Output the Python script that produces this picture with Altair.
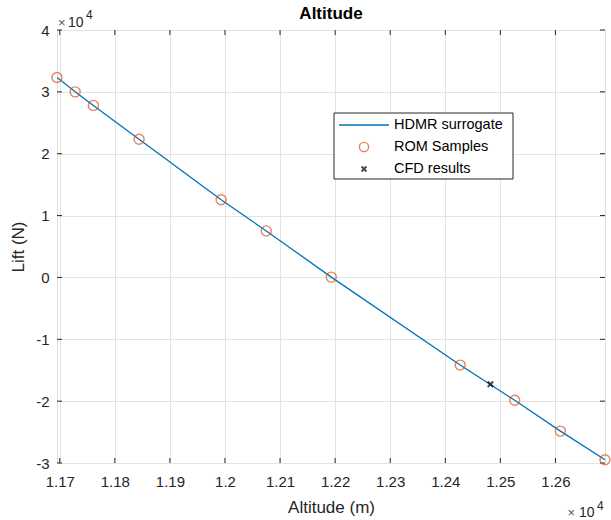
import altair as alt
import pandas as pd

# ---- data ----
rom_alt = [11695, 11728, 11761, 11844, 11993, 12075, 12193, 12427, 12526, 12609, 12690]
rom_lift = [32320, 30000, 27810, 22340, 12560, 7520, 50, -14170, -19860, -24850, -29470]
cfd_alt = [12482]
cfd_lift = [-17280]
series = ["HDMR surrogate", "ROM Samples", "CFD results"]
x_ticks = [11700, 11800, 11900, 12000, 12100, 12200, 12300, 12400, 12500, 12600]
y_ticks = [-30000, -20000, -10000, 0, 10000, 20000, 30000, 40000]
x_dom = [11695, 12690]
y_dom = [-30000, 40000]
chart_title = "Altitude"

W, H = 548, 433
FONT = "Liberation Sans"
TXT = "#262626"
BLUE = "#0072BD"
ORANGE = "#D95319"

rom = pd.DataFrame({"x": rom_alt, "y": rom_lift, "s": series[1]})
hdmr = pd.DataFrame({"x": rom_alt, "y": rom_lift, "s": series[0]})
cfd = pd.DataFrame({"x": cfd_alt, "y": cfd_lift, "s": series[2]})
xt = pd.DataFrame({"x": x_ticks})
yt = pd.DataFrame({"y": y_ticks})

xs = alt.Scale(domain=x_dom, nice=False, zero=False)
ys = alt.Scale(domain=y_dom, nice=False, zero=False)

xaxis = alt.Axis(values=x_ticks, labelExpr="'' + datum.value/10000",
                 grid=True, gridColor="#e3e3e3", ticks=False, domain=False,
                 labelFontSize=15, labelColor=TXT, labelFont=FONT, labelPadding=11,
                 titleFontSize=17, titleFontWeight="normal", titleColor=TXT, titleFont=FONT,
                 titlePadding=10, labelFlush=False)
yaxis = alt.Axis(values=y_ticks, labelExpr="'' + datum.value/10000",
                 grid=True, gridColor="#e3e3e3", ticks=False, domain=False,
                 labelFontSize=15, labelColor=TXT, labelFont=FONT, labelPadding=8,
                 titleFontSize=17, titleFontWeight="normal", titleColor=TXT, titleFont=FONT,
                 titlePadding=8, labelFlush=False)

X = alt.X("x:Q", scale=xs, axis=xaxis, title="Altitude (m)")
Y = alt.Y("y:Q", scale=ys, axis=yaxis, title="Lift (N)")

line = alt.Chart(hdmr).mark_line(color=BLUE, strokeWidth=1.3, clip=True).encode(x=X, y=Y)
pts = alt.Chart(rom).mark_point(shape="circle", filled=False, color=ORANGE, size=100,
                                strokeWidth=1.4).encode(x=X, y=Y)
XPATH = "M-1,-1L1,1M1,-1L-1,1"
cross = alt.Chart(cfd).mark_point(shape=XPATH, filled=False, color="black", size=30,
                                  strokeWidth=2).encode(x=X, y=Y)

TK = "#262626"
tb = alt.Chart(xt).mark_rule(color=TK, strokeWidth=1).encode(
    x=X, y=alt.value(H), y2=alt.value(H - 5))
tt = alt.Chart(xt).mark_rule(color=TK, strokeWidth=1).encode(
    x=X, y=alt.value(0), y2=alt.value(5))
tl = alt.Chart(yt).mark_rule(color=TK, strokeWidth=1).encode(
    y=Y, x=alt.value(0), x2=alt.value(5))
tr = alt.Chart(yt).mark_rule(color=TK, strokeWidth=1).encode(
    y=Y, x=alt.value(W), x2=alt.value(W - 5))

# legend
leg = pd.DataFrame({"s": [series[0]]})
box = alt.Chart(leg).mark_rect(fill="white", stroke=TK, strokeWidth=1).encode(
    x=alt.value(277), x2=alt.value(456), y=alt.value(83), y2=alt.value(149))
lline = alt.Chart(leg).mark_rule(color=BLUE, strokeWidth=1.3).encode(
    x=alt.value(282), x2=alt.value(332), y=alt.value(95))
lcirc = alt.Chart(leg).mark_point(shape="circle", filled=False, color=ORANGE, size=85,
                                  strokeWidth=1.4).encode(x=alt.value(307), y=alt.value(117))
lcross = alt.Chart(leg).mark_point(shape=XPATH, filled=False, color="black", size=24,
                                   strokeWidth=2).encode(x=alt.value(307), y=alt.value(139))
ltexts = []
for i, yy in enumerate([95, 117, 139]):
    ltexts.append(alt.Chart(pd.DataFrame({"t": [series[i]]})).mark_text(
        align="left", baseline="middle", font=FONT, fontSize=14.5, color="black").encode(
        x=alt.value(337), y=alt.value(yy), text="t:N"))

# exponent labels and title
def txt(s, x, y, size, color=TXT, align="left", weight="normal"):
    return alt.Chart(pd.DataFrame({"t": [s]})).mark_text(
        align=align, baseline="alphabetic", font=FONT, fontSize=size, color=color,
        fontWeight=weight).encode(x=alt.value(x), y=alt.value(y), text="t:N")

ex = [txt("×", 1, -3.5, 13, "#555555"), txt("10", 11, -3.5, 14), txt("4", 29, -11, 12),
      txt("×", 510.5, 486.5, 13, "#555555"), txt("10", 522, 486.5, 14), txt("4", 540, 480, 12),
      txt(chart_title, W / 2, -11, 17, "black", "center", "bold")]

chart = alt.layer(line, tb, tt, tl, tr, pts, cross, box, lline, lcirc, lcross,
                  *ltexts, *ex).properties(
    width=W, height=H,
    autosize=alt.AutoSizeParams(type="none"),
    padding={"left": 57, "top": 30, "right": 6, "bottom": 57},
).configure_view(stroke=TK, strokeWidth=1).configure(background="white")

chart.save("out.html", embed_options={"renderer": "svg", "actions": False})
